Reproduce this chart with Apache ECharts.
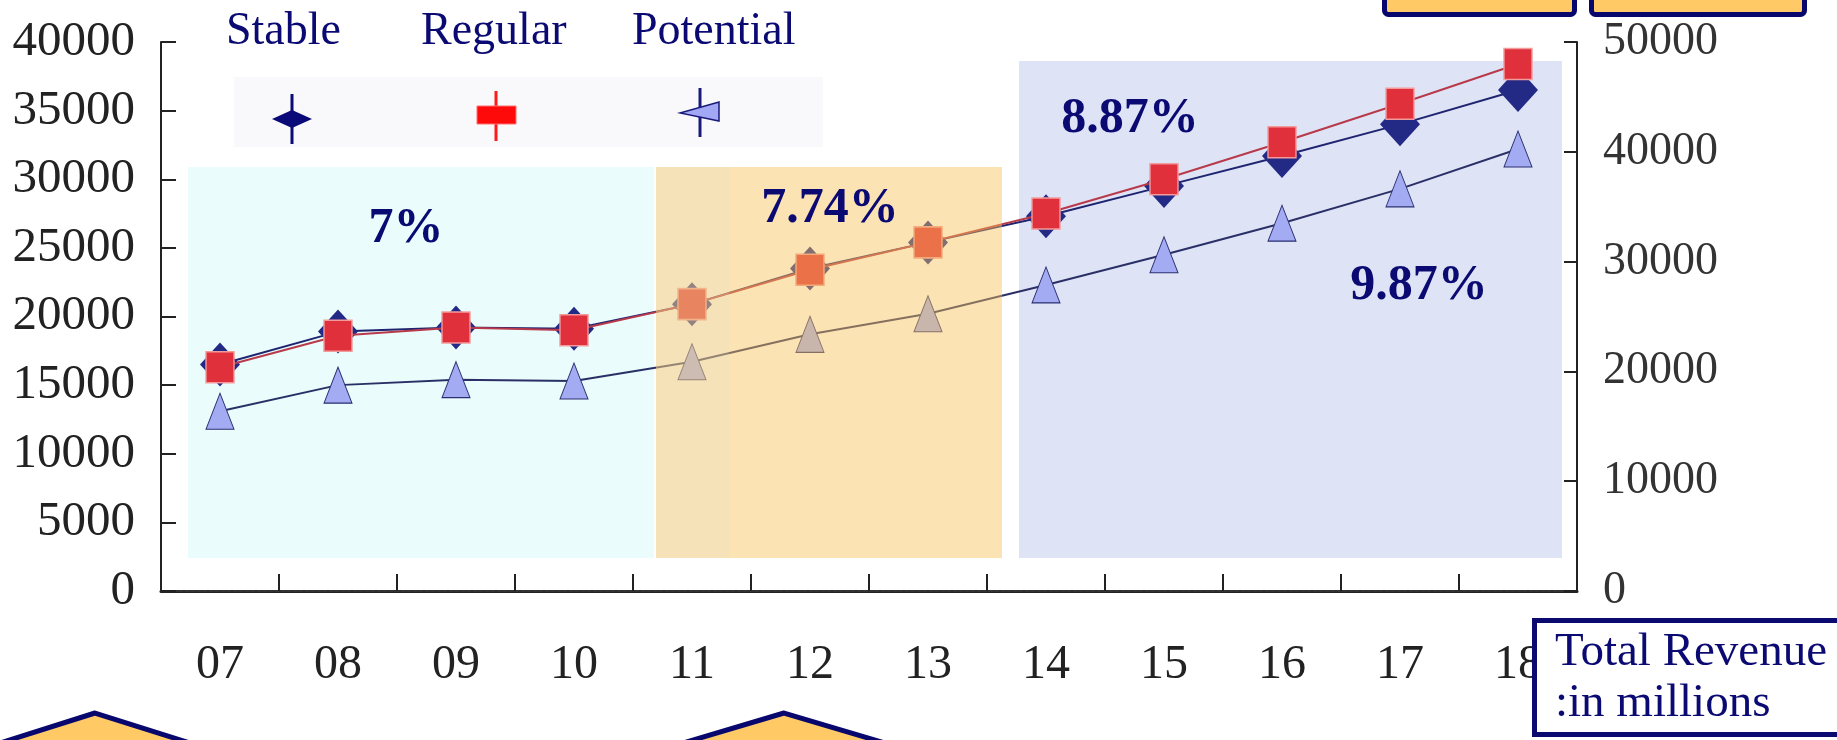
<!DOCTYPE html>
<html>
<head>
<meta charset="utf-8">
<script src="https://cdn.jsdelivr.net/npm/echarts@6/dist/echarts.min.js"></script>
<style>
  html, body { margin: 0; padding: 0; background: #ffffff; }
  #chart { width: 1837px; height: 740px; }
</style>
</head>
<body>
<div id="chart"></div>
<script>
// Year categories (20xx)
const years = ['07', '08', '09', '10', '11', '12', '13', '14', '15', '16', '17', '18'];

// Series values (left axis)
const stable    = [16500, 18900, 19200, 19100, 20900, 23500, 25400, 27300, 29500, 31700, 34000, 36500];
const regular   = [16300, 18600, 19200, 19000, 20900, 23400, 25400, 27500, 30000, 32700, 35500, 38400];
const potential = [13100, 15000, 15400, 15300, 16700, 18700, 20200, 22300, 24500, 26800, 29300, 32200];

// Growth-rate annotations
const growthLabels = ['7%', '7.74%', '8.87%', '9.87%'];

const SERIF = '"Liberation Serif", "DejaVu Serif", serif';
const NAVY = '#0A0A72';

const chart = echarts.init(document.getElementById('chart'), null, { renderer: 'canvas' });

function legendFor(name, left) {
  return {
    data: [name],
    left: left,
    top: 4,
    itemWidth: 0,
    itemHeight: 0,
    icon: 'rect',
    selectedMode: false,
    textStyle: { fontFamily: SERIF, fontSize: 46, color: NAVY }
  };
}

const plain = (v) => String(v);

const option = {
  animation: false,
  backgroundColor: '#ffffff',
  grid: { left: 161, right: 260, top: 42, bottom: 149, containLabel: false },
  legend: [
    legendFor('Stable', 216),
    legendFor('Regular', 410),
    legendFor('Potential', 621)
  ],
  xAxis: [
    {
      type: 'category',
      data: years,
      boundaryGap: true,
      axisLine: { show: true, lineStyle: { color: '#222', width: 3 } },
      axisTick: { show: true, inside: true, length: 17, lineStyle: { color: '#222', width: 2 } },
      axisLabel: { margin: 50, fontFamily: SERIF, fontSize: 48, color: '#222' },
      splitLine: { show: false }
    },
    {
      type: 'category',
      data: years,
      position: 'top',
      boundaryGap: true,
      axisLine: { show: true, lineStyle: { color: '#333', width: 2, type: [4, 2] } },
      axisTick: { show: false },
      axisLabel: { show: false },
      splitLine: { show: false }
    }
  ],
  yAxis: [
    {
      type: 'value',
      min: 0, max: 40000, interval: 5000,
      position: 'left',
      axisLine: { show: true, lineStyle: { color: '#222', width: 2 } },
      axisTick: { show: true, inside: true, length: 15, lineStyle: { color: '#222', width: 2 } },
      axisLabel: { margin: 26, fontFamily: SERIF, fontSize: 49, color: '#222', formatter: plain },
      splitLine: { show: false }
    },
    {
      type: 'value',
      min: 0, max: 50000, interval: 10000,
      position: 'right',
      axisLine: { show: true, lineStyle: { color: '#222', width: 2 } },
      axisTick: { show: true, inside: true, length: 13, lineStyle: { color: '#222', width: 2 } },
      axisLabel: { margin: 26, fontFamily: SERIF, fontSize: 46, color: '#333', formatter: plain },
      splitLine: { show: false }
    }
  ],
  series: [
    {
      name: 'Potential',
      type: 'line',
      data: potential,
      symbol: 'triangle',
      symbolSize: [28, 36],
      lineStyle: { color: '#2A3066', width: 2 },
      itemStyle: { color: '#A3ABF2', borderColor: '#2A2F70', borderWidth: 1 },
      z: 2
    },
    {
      name: 'Stable',
      type: 'line',
      data: stable,
      symbol: 'diamond',
      symbolSize: [40, 44],
      lineStyle: { color: '#1F2470', width: 2 },
      itemStyle: { color: '#232A86' },
      z: 3
    },
    {
      name: 'Regular',
      type: 'line',
      data: regular,
      symbol: 'rect',
      symbolSize: [28, 31],
      lineStyle: { color: '#B83A4A', width: 2 },
      itemStyle: { color: '#E0303C', borderColor: '#F39A9A', borderWidth: 1.5 },
      z: 4
    }
  ],
  graphic: [
    // period panels behind the lines
    { type: 'rect', z: 0, shape: { x: 188, y: 167, width: 466, height: 391 }, style: { fill: '#EAFCFC' } },
    { type: 'rect', z: 0, shape: { x: 1019, y: 61, width: 543, height: 497 }, style: { fill: '#DEE4F6' } },
    // translucent orange panel over the 2011-2013 section
    { type: 'rect', z: 6, shape: { x: 656, y: 167, width: 73, height: 391 }, style: { fill: 'rgba(238,203,125,0.55)' } },
    { type: 'rect', z: 6, shape: { x: 729, y: 167, width: 273, height: 391 }, style: { fill: 'rgba(247,193,86,0.45)' } },

    // legend symbol strip
    { type: 'rect', z: 1, shape: { x: 234, y: 77, width: 589, height: 70 }, style: { fill: '#F9F9FB' } },
    { type: 'line', z: 2, shape: { x1: 292, y1: 94, x2: 292, y2: 144 }, style: { stroke: '#0A0A78', lineWidth: 3 } },
    { type: 'polygon', z: 2, shape: { points: [[272, 119], [292, 110], [312, 119], [292, 128]] }, style: { fill: '#0A0A78' } },
    { type: 'line', z: 2, shape: { x1: 496, y1: 91, x2: 496, y2: 141 }, style: { stroke: '#FF1A1A', lineWidth: 3 } },
    { type: 'rect', z: 2, shape: { x: 477, y: 106, width: 39, height: 18 }, style: { fill: '#FF0A0A', stroke: '#FF7070', lineWidth: 1 } },
    { type: 'line', z: 2, shape: { x1: 700, y1: 88, x2: 700, y2: 137 }, style: { stroke: '#1A1A7A', lineWidth: 3 } },
    { type: 'polygon', z: 2, shape: { points: [[680, 113], [719, 102], [719, 121]] }, style: { fill: '#A3A8F5', stroke: '#1A1A7A', lineWidth: 1.5 } },

    // growth-rate labels
    { type: 'text', z: 12, x: 406, y: 229, style: { text: growthLabels[0], font: 'bold 50px ' + SERIF, fill: NAVY, align: 'center', verticalAlign: 'middle' } },
    { type: 'text', z: 12, x: 830, y: 209, style: { text: growthLabels[1], font: 'bold 50px ' + SERIF, fill: NAVY, align: 'center', verticalAlign: 'middle' } },
    { type: 'text', z: 12, x: 1130, y: 119, style: { text: growthLabels[2], font: 'bold 50px ' + SERIF, fill: NAVY, align: 'center', verticalAlign: 'middle' } },
    { type: 'text', z: 12, x: 1419, y: 286, style: { text: growthLabels[3], font: 'bold 50px ' + SERIF, fill: NAVY, align: 'center', verticalAlign: 'middle' } },

    // orange tabs along the top edge
    { type: 'rect', z: 10, shape: { x: 1384.5, y: -20, width: 190, height: 34.5, r: 4 }, style: { fill: '#FFC966', stroke: '#07076E', lineWidth: 5 } },
    { type: 'rect', z: 10, shape: { x: 1591.5, y: -20, width: 213, height: 34.5, r: 4 }, style: { fill: '#FFC966', stroke: '#07076E', lineWidth: 5 } },

    // orange arrow heads along the bottom edge
    { type: 'polygon', z: 10, shape: { points: [[95, 713], [-63, 763], [253, 763]] }, style: { fill: '#FFC966', stroke: '#07076E', lineWidth: 5, lineJoin: 'miter' } },
    { type: 'polygon', z: 10, shape: { points: [[784, 713], [616, 763], [952, 763]] }, style: { fill: '#FFC966', stroke: '#07076E', lineWidth: 5, lineJoin: 'miter' } },

    // unit box
    { type: 'rect', z: 10, shape: { x: 1534.5, y: 620.5, width: 320, height: 114 }, style: { fill: '#ffffff', stroke: '#0A0A70', lineWidth: 5 } },
    { type: 'text', z: 11, x: 1555, y: 653, style: { text: 'Total Revenue', font: '47px ' + SERIF, fill: NAVY, align: 'left', verticalAlign: 'middle' } },
    { type: 'text', z: 11, x: 1555, y: 704, style: { text: ':in millions', font: '47px ' + SERIF, fill: NAVY, align: 'left', verticalAlign: 'middle' } }
  ]
};

chart.setOption(option);
</script>
</body>
</html>
